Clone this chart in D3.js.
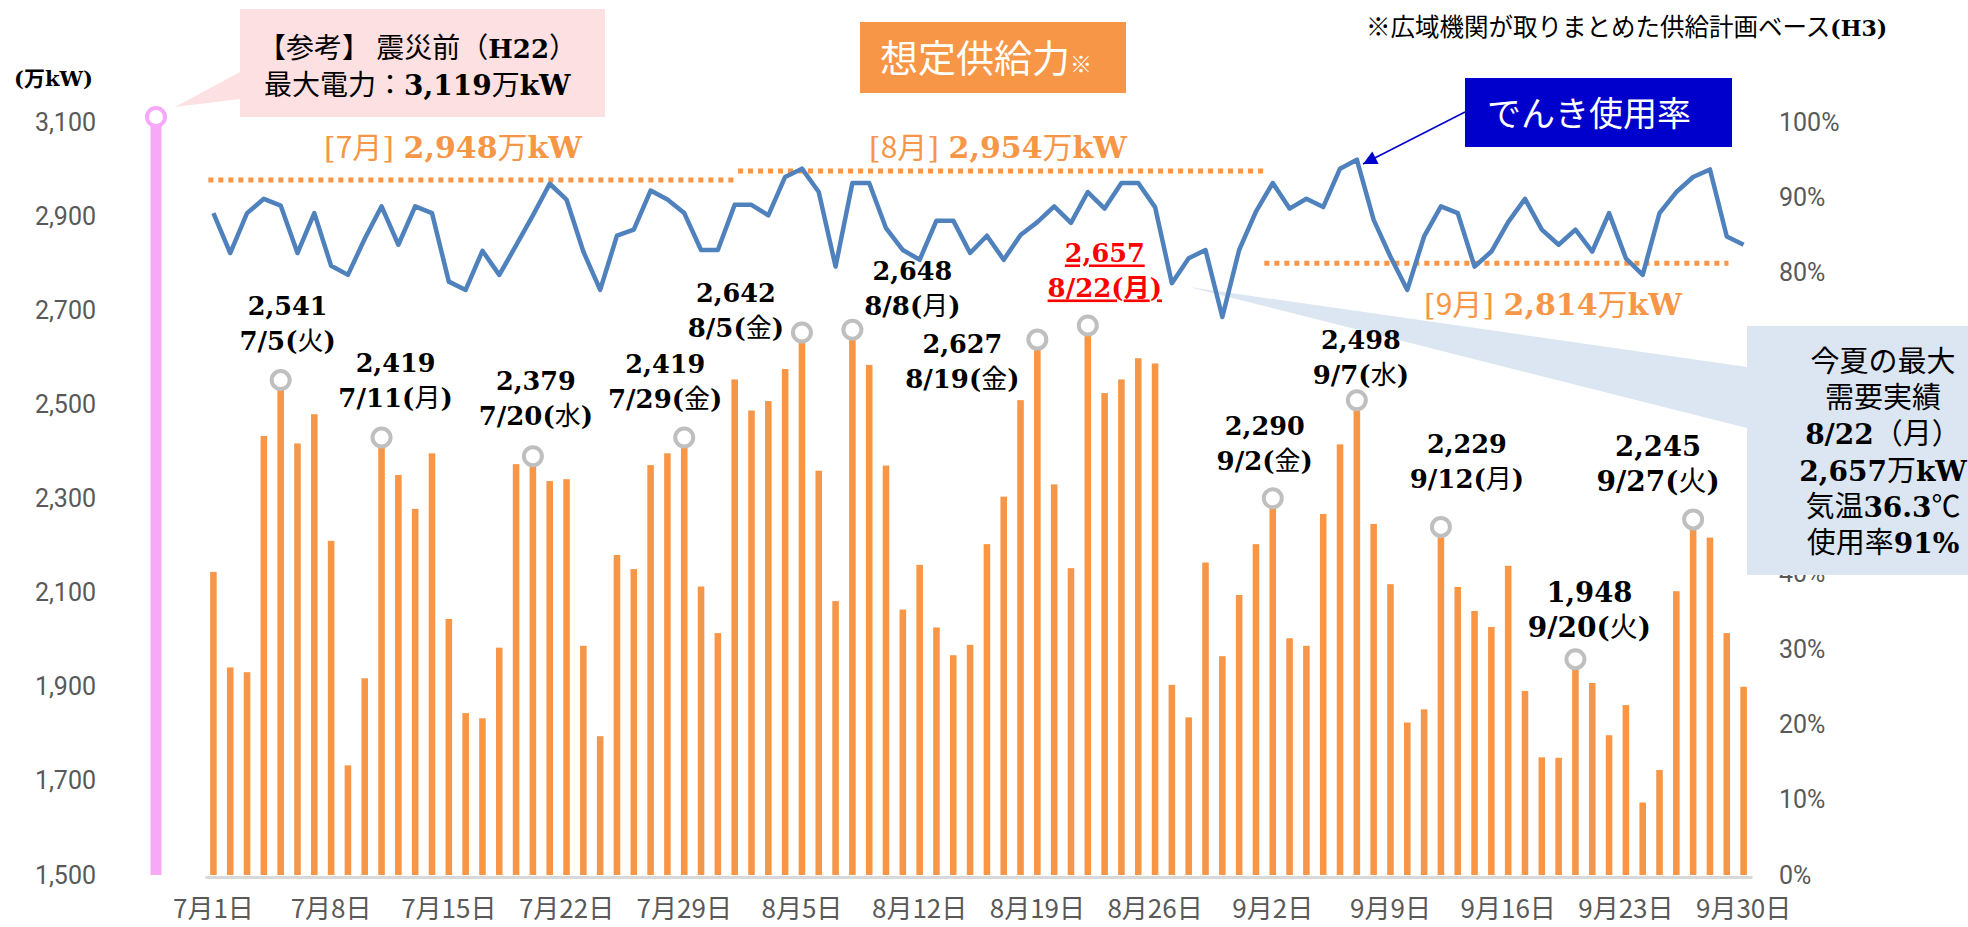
<!DOCTYPE html>
<html>
<head>
<meta charset="utf-8">
<script src="https://cdn.jsdelivr.net/npm/d3@7"></script>
<style>
body { margin: 0; background: #fff; }
svg text { font-family: "Noto Sans CJK JP", "Noto Sans", sans-serif; }
.serif { font-family: "DejaVu Serif", "Noto Sans CJK JP", serif; font-weight: bold; }
.cjk { font-family: "Noto Sans CJK JP", sans-serif; font-weight: normal; }
</style>
</head>
<body>
<div id="chart"></div>
<script>
// 最大需要実績（万kW） 7/1〜9/30
var demand = [2144, 1941, 1931, 2433, 2541, 2417, 2479, 2210, 1733, 1918,
              2419, 2350, 2278, 2396, 2044, 1844, 1833, 1983, 2373, 2379,
              2337, 2341, 1987, 1795, 2180, 2150, 2371, 2396, 2419, 2113,
              2014, 2553, 2487, 2507, 2575, 2642, 2359, 2082, 2648, 2584,
              2370, 2064, 2159, 2026, 1967, 1989, 2203, 2304, 2509, 2627,
              2330, 2152, 2657, 2524, 2553, 2598, 2587, 1904, 1835, 2164,
              1965, 2095, 2203, 2290, 2003, 1987, 2267, 2415, 2498, 2246,
              2118, 1824, 1852, 2229, 2112, 2061, 2027, 2157, 1891, 1750,
              1749, 1948, 1908, 1797, 1861, 1654, 1723, 2103, 2245, 2217,
              2014, 1900];

// でんき使用率（%）
var usage = [87.9, 82.6, 87.9, 89.8, 88.9, 82.6, 87.9, 80.9, 79.7, 84.5,
             88.8, 83.7, 88.8, 87.9, 78.8, 77.7, 82.9, 79.7, 83.6, 87.6,
             91.8, 89.7, 82.8, 77.7, 84.9, 85.7, 90.9, 89.7, 87.9, 83.0,
             83.0, 89.0, 89.0, 87.6, 92.7, 93.8, 90.7, 80.8, 91.9, 91.9,
             85.9, 83.0, 81.7, 86.9, 86.9, 82.6, 84.9, 81.7, 85.0, 86.7,
             88.8, 86.6, 90.7, 88.5, 91.9, 91.9, 88.7, 78.6, 81.9, 83.0,
             74.1, 83.0, 88.1, 91.9, 88.5, 89.8, 88.7, 93.8, 95.0, 87.0,
             82.1, 77.7, 84.8, 88.8, 87.9, 80.8, 82.8, 86.7, 89.8, 85.7,
             83.7, 85.7, 82.8, 87.9, 81.9, 79.7, 87.9, 90.7, 92.7, 93.7,
             84.8, 83.7];

var xTickIndex = [0, 7, 14, 21, 28, 35, 42, 49, 56, 63, 70, 77, 84, 91];
var xTickLabels = ["7月1日", "7月8日", "7月15日", "7月22日", "7月29日", "8月5日", "8月12日",
                   "8月19日", "8月26日", "9月2日", "9月9日", "9月16日", "9月23日", "9月30日"];
var leftTicks = [1500, 1700, 1900, 2100, 2300, 2500, 2700, 2900, 3100];
// 50%〜70% sit behind the callout box in the original
var rightTicks = [0, 0.1, 0.2, 0.3, 0.4, 0.8, 0.9, 1];

// 想定供給力
var supplyMonths = ["7月", "8月", "9月"];
var supplyText = ["2,948", "2,954", "2,814"];
var supplyLevel = [2977, 2996, 2800];     // height of the dotted line as drawn
var supplyFrom = [-0.3, 31.2, 62.5];      // day index
var supplyTo = [31.0, 62.7, 90.1];

// 震災前（H22）最大電力
var refPeak = 3119;

// 注記つきのピーク
var peakIndex = [4, 10, 19, 28, 35, 38, 49, 52, 63, 68, 73, 81, 88];
var peakDates = ["7/5", "7/11", "7/20", "7/29", "8/5", "8/8", "8/19", "8/22", "9/2", "9/7", "9/12", "9/20", "9/27"];
var peakDays = ["火", "月", "水", "金", "金", "月", "金", "月", "金", "水", "月", "火", "火"];

// label layout (offset of first text line from the peak)
var labelDx = [7, 14, 3, -19, -66, 60, -75, 17, -8, 4, 26, 14, -35],
    labelDy = [-70, -70, -71, -69, -36, -55, 8, -68, -68, -56, -79, -62, -68],
    labelSize = [25, 25, 25, 25, 25, 25, 25, 25, 25, 25, 25, 27, 27];

var W = 1968, H = 927,
    orange = "#f79646",
    blue = "#4f81bd";

var svg = d3.select("#chart").append("svg")
    .attr("width", W)
    .attr("height", H);

var x = d3.scaleBand()
    .domain(d3.range(demand.length))
    .range([205, 1752])
    .paddingInner(0.61)
    .paddingOuter(0.305);

var cx = i => x(i) + x.bandwidth() / 2;
var xLin = d3.scaleLinear().domain([0, demand.length - 1]).range([cx(0), cx(demand.length - 1)]);

var yL = d3.scaleLinear().domain([1500, 3100]).range([875, 122]);
var yR = d3.scaleLinear().domain([0, 1]).range([875, 122]);

// 参考：震災前 callout
svg.append("polygon")
    .attr("points", "175,107 240,72 240,99")
    .attr("fill", "#fde1e2");
svg.append("rect")
    .attr("x", 240).attr("y", 9).attr("width", 365).attr("height", 108)
    .attr("fill", "#fde1e2");
var tr = svg.append("text").attr("x", 258).attr("y", 58).style("font-size", "28px").attr("fill", "#000");
tr.append("tspan").text("【参考】 震災前（");
tr.append("tspan").attr("class", "serif").style("font-size", "26px").text("H22");
tr.append("tspan").text("）");
tr.append("tspan").attr("x", 264).attr("y", 95).text("最大電力：");
tr.append("tspan").attr("class", "serif").style("font-size", "28px").text("3,119");
tr.append("tspan").text("万");
tr.append("tspan").attr("class", "serif").style("font-size", "28px").text("kW");

svg.append("line")
    .attr("x1", 156).attr("x2", 156)
    .attr("y1", yL(refPeak)).attr("y2", yL(1500))
    .attr("stroke", "#f7a8f6").attr("stroke-width", 11);
svg.append("circle")
    .attr("cx", 156).attr("cy", yL(refPeak) + 4).attr("r", 9)
    .attr("fill", "#fff").attr("stroke", "#f7a8f6").attr("stroke-width", 4);

// axes
svg.append("text")
    .attr("class", "serif")
    .attr("x", 14).attr("y", 86)
    .style("font-size", "21px")
    .text("(万kW)");

var gl = svg.append("g")
    .attr("transform", "translate(99,0)")
    .call(d3.axisLeft(yL).tickValues(leftTicks).tickSize(0).tickPadding(3).tickFormat(d3.format(",")));
gl.select(".domain").remove();
gl.selectAll("text").style("font-size", "25px").attr("fill", "#595959")
    .style("font-family", "Roboto, 'Noto Sans', sans-serif");

var gr = svg.append("g")
    .attr("transform", "translate(1776,0)")
    .call(d3.axisRight(yR).tickValues(rightTicks).tickSize(0).tickPadding(3).tickFormat(d3.format(".0%")));
gr.select(".domain").remove();
gr.selectAll("text").style("font-size", "25px").attr("fill", "#595959")
    .style("font-family", "Roboto, 'Noto Sans', sans-serif");

var gx = svg.append("g")
    .attr("transform", "translate(0,877)")
    .call(d3.axisBottom(x).tickValues(xTickIndex).tickSize(0).tickSizeOuter(0).tickPadding(0)
        .tickFormat((d, i) => xTickLabels[i]));
gx.select(".domain").attr("stroke", "#d9d9d9").attr("stroke-width", 3);
gx.selectAll("text").style("font-size", "26px").attr("fill", "#595959")
    .attr("y", 41).attr("dy", null);

// bars
svg.append("g").selectAll("rect")
    .data(demand)
    .enter().append("rect")
    .attr("x", (d, i) => x(i))
    .attr("width", x.bandwidth())
    .attr("y", d => yL(d))
    .attr("height", d => yL(1500) - yL(d))
    .attr("fill", orange);

// supply dotted lines
svg.append("g").selectAll("line")
    .data(supplyLevel)
    .enter().append("line")
    .attr("x1", (d, i) => xLin(supplyFrom[i]))
    .attr("x2", (d, i) => xLin(supplyTo[i]))
    .attr("y1", d => yL(d))
    .attr("y2", d => yL(d))
    .attr("stroke", orange)
    .attr("stroke-width", 5)
    .attr("stroke-dasharray", "5,5");

var supplyLabelPos = [[453, 158], [998, 158], [1553, 315]];
supplyMonths.forEach(function (m, i) {
    var t = svg.append("text")
        .attr("x", supplyLabelPos[i][0]).attr("y", supplyLabelPos[i][1])
        .attr("text-anchor", "middle")
        .attr("fill", orange)
        .style("font-size", "30px");
    t.append("tspan").attr("class", "serif").style("font-weight", "normal").text("[");
    t.append("tspan").text(m);
    t.append("tspan").attr("class", "serif").style("font-weight", "normal").text("] ");
    t.append("tspan").attr("class", "serif").text(supplyText[i]);
    t.append("tspan").text("万");
    t.append("tspan").attr("class", "serif").text("kW");
});

// wedge of the right callout (behind the line)
svg.append("polygon")
    .attr("points", "1189,287 1747,367 1747,428")
    .attr("fill", "#dce6f2");

// usage line
svg.append("path")
    .datum(usage)
    .attr("fill", "none")
    .attr("stroke", blue)
    .attr("stroke-width", 4.5)
    .attr("stroke-linejoin", "round")
    .attr("d", d3.line().x((d, i) => cx(i)).y(d => yR(d / 100)));

// peak markers and labels
var fmt = d3.format(",");
peakIndex.forEach(function (idx, k) {
    var v = demand[idx],
        px = cx(idx),
        py = yL(v) - 5,
        red = peakDates[k] === "8/22",
        col = red ? "#ff0000" : "#000";

    svg.append("circle")
        .attr("cx", px).attr("cy", py).attr("r", 9)
        .attr("fill", "#fff").attr("stroke", "#bfbfbf").attr("stroke-width", 4);

    var lx = px + labelDx[k], ly = yL(v) + labelDy[k];
    var t = svg.append("text")
        .attr("class", "serif")
        .attr("x", lx).attr("y", ly)
        .attr("text-anchor", "middle")
        .attr("fill", col)
        .style("font-size", (labelSize[k] + 0.5) + "px");
    t.append("tspan").text(fmt(v));
    var d2 = t.append("tspan").attr("x", lx).attr("y", ly + 35).style("font-size", (labelSize[k] + 1) + "px");
    d2.append("tspan").text(peakDates[k] + "(");
    d2.append("tspan").attr("class", "cjk").style("font-weight", red ? "bold" : "normal").text(peakDays[k]);
    d2.append("tspan").text(")");
    if (red) t.style("text-decoration", "underline");
});

// 今夏の最大需要実績 callout
svg.append("rect")
    .attr("x", 1747).attr("y", 326).attr("width", W - 1747).attr("height", 249)
    .attr("fill", "#dce6f2");
var cxT = 1883;
var lines = [
    [["今夏の最大", 0]],
    [["需要実績", 0]],
    [["8/22", 1], ["（月）", 0]],
    [["2,657", 1], ["万", 0], ["kW", 1]],
    [["気温", 0], ["36.3", 1], ["℃", 0]],
    [["使用率", 0], ["91%", 1]]
];
var tc = svg.append("text")
    .attr("text-anchor", "middle")
    .attr("fill", "#000")
    .style("font-size", "29px");
lines.forEach(function (parts, i) {
    var row = tc.append("tspan").attr("x", cxT).attr("y", 372 + i * 36.2);
    parts.forEach(function (p) {
        var s = row.append("tspan").text(p[0]);
        if (p[1]) s.attr("class", "serif").style("font-size", "28px");
    });
});

// 想定供給力 title
svg.append("rect")
    .attr("x", 860).attr("y", 22).attr("width", 266).attr("height", 71)
    .attr("fill", orange);
var tt = svg.append("text").attr("x", 880).attr("y", 72).attr("fill", "#fff").style("font-size", "38px");
tt.append("tspan").text("想定供給力");
tt.append("tspan").style("font-size", "22px").text("※");

// note
var nt = svg.append("text").attr("x", 1366).attr("y", 36).attr("fill", "#000").style("font-size", "24.5px");
nt.append("tspan").text("※広域機関が取りまとめた供給計画ベース");
nt.append("tspan").attr("class", "serif").style("font-size", "22px").text("(H3)");

// でんき使用率 tag
svg.append("defs").append("marker")
    .attr("id", "arrow")
    .attr("viewBox", "0 0 10 10")
    .attr("refX", 10).attr("refY", 5)
    .attr("markerWidth", 18).attr("markerHeight", 14)
    .attr("markerUnits", "userSpaceOnUse")
    .attr("orient", "auto")
    .append("path").attr("d", "M0,0L10,5L0,10Z").attr("fill", "#0000cc");
svg.append("line")
    .attr("x1", 1465).attr("y1", 112)
    .attr("x2", 1363).attr("y2", 164)
    .attr("stroke", "#0000cc").attr("stroke-width", 1.5)
    .attr("marker-end", "url(#arrow)");
svg.append("rect")
    .attr("x", 1465).attr("y", 78).attr("width", 267).attr("height", 69)
    .attr("fill", "#0000cc");
svg.append("text")
    .attr("x", 1487).attr("y", 126)
    .attr("fill", "#fff")
    .style("font-size", "34px")
    .text("でんき使用率");
</script>
</body>
</html>
